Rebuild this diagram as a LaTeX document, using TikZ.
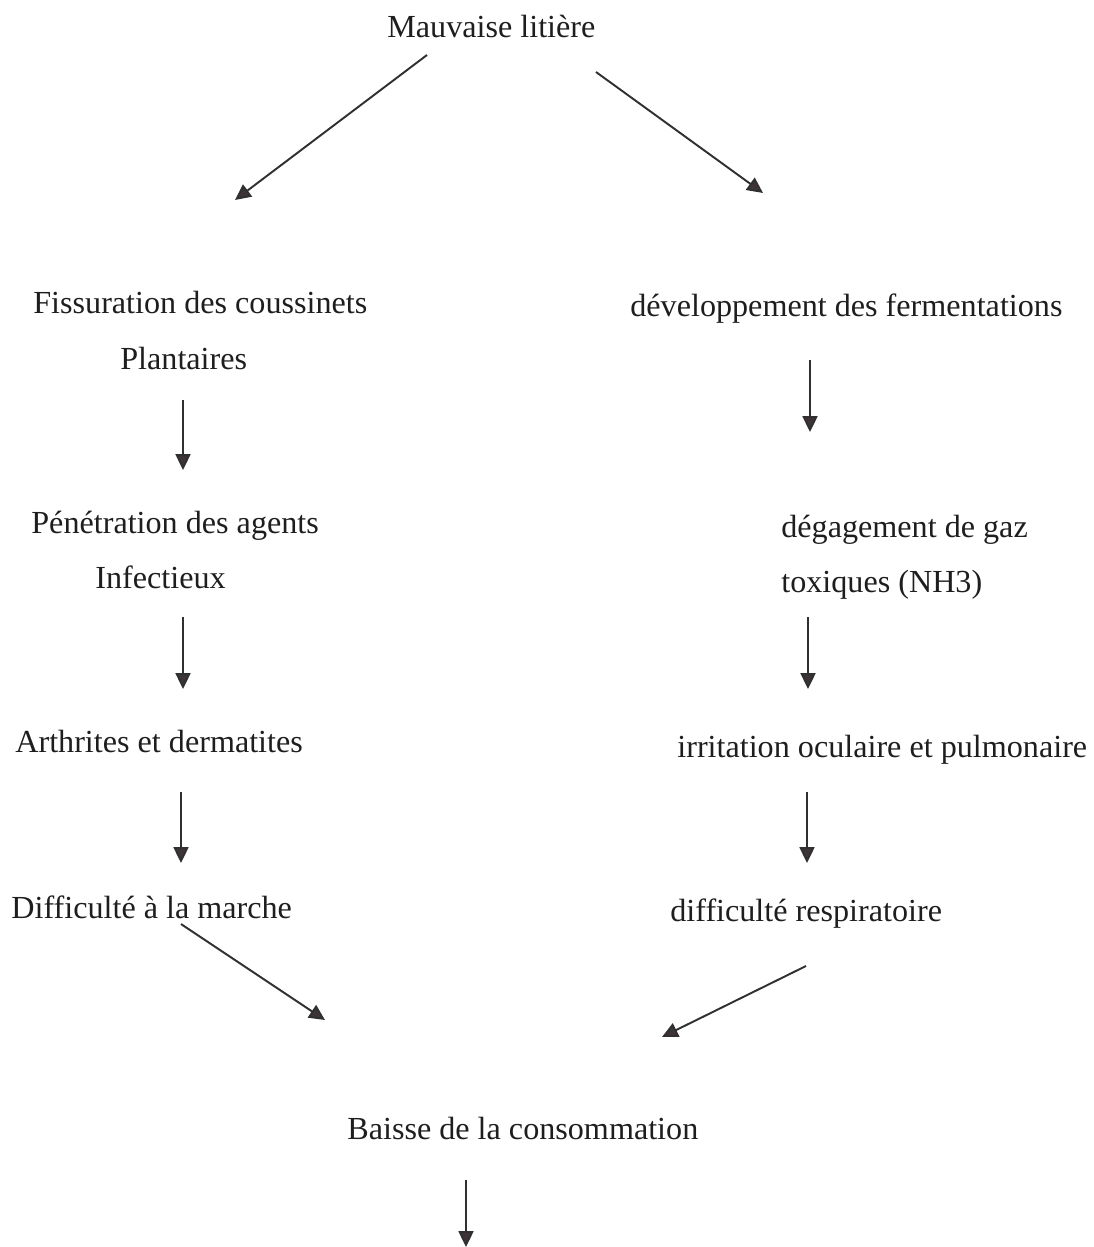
\documentclass[tikz,border=0pt]{standalone}
\usepackage{fontspec}
\setmainfont{Liberation Serif}
\usetikzlibrary{arrows.meta}
\definecolor{encre}{HTML}{1E1E1E}
\definecolor{trait}{HTML}{303030}
\definecolor{pointe}{HTML}{3E3438}

\begin{document}
\begin{tikzpicture}[x=0.02cm,y=-0.02cm,
  txt/.style={anchor=base west,inner sep=0pt,text=encre,font=\fontsize{18.3}{22}\selectfont},
  fl/.style={draw=trait,line width=1.1pt,-{Triangle[length=9pt,width=8.5pt,fill=pointe]}}]
 \useasboundingbox (0,0) rectangle (1093,1247);

 % Textes
 \node[txt] (mauv)   at (387,38)  {Mauvaise litière};
 \node[txt] (fiss)   at (33,313)  {Fissuration des coussinets};
 \node[txt] (plant)  at (120,369) {Plantaires};
 \node[txt] (dev)    at (630,316) {développement des fermentations};
 \node[txt] (pene)   at (31,533)  {Pénétration des agents};
 \node[txt] (infec)  at (95,588)  {Infectieux};
 \node[txt] (degag)  at (781,537) {dégagement de gaz};
 \node[txt] (toxi)   at (781,592) {toxiques (NH3)};
 \node[txt] (arth)   at (15,752)  {Arthrites et dermatites};
 \node[txt] (irri)   at (677,757) {irritation oculaire et pulmonaire};
 \node[txt] (marche) at (11,918)  {Difficulté à la marche};
 \node[txt] (resp)   at (670,921) {difficulté respiratoire};
 \node[txt] (baisse) at (347,1139) {Baisse de la consommation};

 % Extremites des fleches
 \coordinate (gA) at (427,55);  \coordinate (gB) at (235,200);
 \coordinate (dA) at (596,72);  \coordinate (dB) at (763,193);
 \coordinate (g1) at (183,400); \coordinate (g2) at (183,470);
 \coordinate (d1) at (810,360); \coordinate (d2) at (810,432);
 \coordinate (g3) at (183,617); \coordinate (g4) at (183,689);
 \coordinate (d3) at (808,617); \coordinate (d4) at (808,689);
 \coordinate (g5) at (181,792); \coordinate (g6) at (181,863);
 \coordinate (d5) at (807,792); \coordinate (d6) at (807,863);
 \coordinate (mA) at (181,924); \coordinate (mB) at (325,1020);
 \coordinate (rA) at (806,966); \coordinate (rB) at (662,1037);
 \coordinate (bA) at (466,1180); \coordinate (bB) at (466,1247);

 % Fleches
 \draw[fl] (gA) -- (gB);
 \draw[fl] (dA) -- (dB);
 \foreach \a/\b in {g1/g2,d1/d2,g3/g4,d3/d4,g5/g6,d5/d6}
  \draw[fl] (\a) -- (\b);
 \draw[fl] (mA) -- (mB);
 \draw[fl] (rA) -- (rB);
 \draw[fl] (bA) -- (bB);
\end{tikzpicture}
\end{document}
